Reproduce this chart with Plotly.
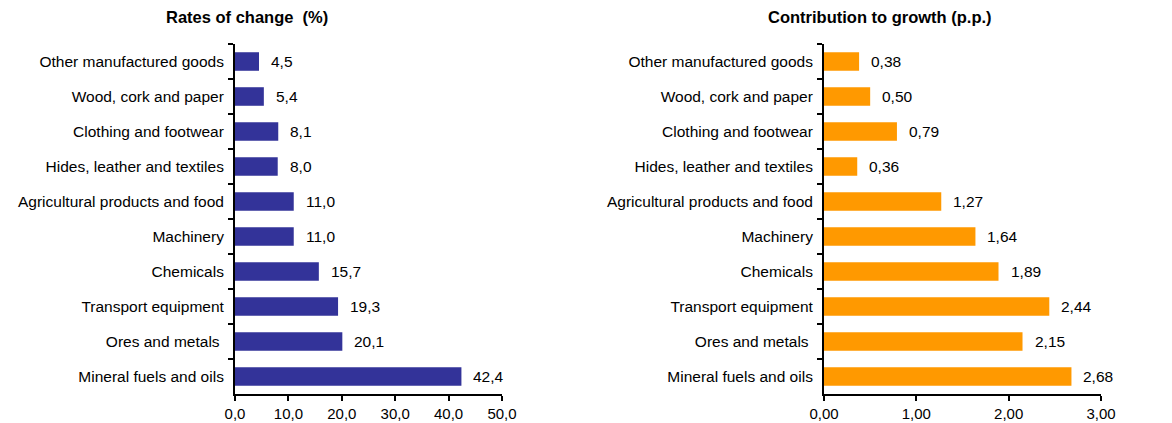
import plotly.graph_objects as go

categories = ["Other manufactured goods", "Wood, cork and paper", "Clothing and footwear",
              "Hides, leather and textiles", "Agricultural products and food", "Machinery",
              "Chemicals", "Transport equipment", "Ores and metals ", "Mineral fuels and oils"]
rates = [4.5, 5.4, 8.1, 8.0, 11.0, 11.0, 15.7, 19.3, 20.1, 42.4]
contrib = [0.38, 0.50, 0.79, 0.36, 1.27, 1.64, 1.89, 2.44, 2.15, 2.68]
left_ticks = [0, 10, 20, 30, 40, 50]
right_ticks = [0, 1, 2, 3]
title_left = "Rates of change  (%)"
title_right = "Contribution to growth (p.p.)"

FONT = "Liberation Sans, Arial, sans-serif"
OFF = 8  # default page body margin
W, H = 1172 - OFF, 423 - OFF
FS = 15.5


def px(x):
    return (x - OFF) / W


def py(y):
    return 1 - (y - OFF) / H


fig = go.Figure()
fig.add_trace(go.Bar(y=categories, x=rates, orientation="h", marker=dict(color="#333399", line=dict(width=0)),
                     width=0.53, xaxis="x", yaxis="y", showlegend=False))
fig.add_trace(go.Bar(y=categories, x=contrib, orientation="h", marker=dict(color="#FF9900", line=dict(width=0)),
                     width=0.53, xaxis="x2", yaxis="y2", showlegend=False))

ann = []
for c, v in zip(categories, rates):
    ann.append(dict(x=v, y=c, xref="x", yref="y", text=f"{v:.1f}".replace(".", ","), showarrow=False,
                    xanchor="left", xshift=10, font=dict(size=FS, color="#000", family=FONT)))
for c, v in zip(categories, contrib):
    ann.append(dict(x=v, y=c, xref="x2", yref="y2", text=f"{v:.2f}".replace(".", ","), showarrow=False,
                    xanchor="left", xshift=10, font=dict(size=FS, color="#000", family=FONT)))
ann.append(dict(x=px(247), y=py(17), xref="paper", yref="paper", text=f"<b>{title_left}</b>", showarrow=False,
                xanchor="center", yanchor="middle", font=dict(size=16.5, color="#000", family=FONT)))
ann.append(dict(x=px(880), y=py(17), xref="paper", yref="paper", text=f"<b>{title_right}</b>", showarrow=False,
                xanchor="center", yanchor="middle", font=dict(size=16.5, color="#000", family=FONT)))

ydom = [py(394), py(44)]
axis_common = dict(showline=True, linecolor="#000", linewidth=2, showgrid=False, zeroline=False,
                   ticks="outside", ticklen=5, tickcolor="#000", tickwidth=1.5, automargin=False)
yfont = dict(size=FS, color="#000", family=FONT)
xfont = dict(size=15, color="#000", family=FONT)

fig.update_layout(
    width=W, height=H, margin=dict(l=0, r=0, t=0, b=0, autoexpand=False),
    paper_bgcolor="white", plot_bgcolor="white",
    annotations=ann,
    xaxis=dict(domain=[px(235), px(502)], range=[0, 50], tickvals=left_ticks,
               ticktext=[f"{t:.1f}".replace(".", ",") for t in left_ticks], anchor="y",
               ticklabelstandoff=0, tickfont=xfont, **axis_common),
    yaxis=dict(domain=ydom, autorange="reversed", type="category", tickson="boundaries", anchor="x",
               ticklabelstandoff=6, tickfont=yfont, **axis_common),
    xaxis2=dict(domain=[px(824), px(1101)], range=[0, 3], tickvals=right_ticks,
                ticktext=[f"{t:.2f}".replace(".", ",") for t in right_ticks], anchor="y2",
                ticklabelstandoff=0, tickfont=xfont, **axis_common),
    yaxis2=dict(domain=ydom, autorange="reversed", type="category", tickson="boundaries", anchor="x2",
                ticklabelstandoff=6, tickfont=yfont, **axis_common),
)

fig.write_html("out.html")
